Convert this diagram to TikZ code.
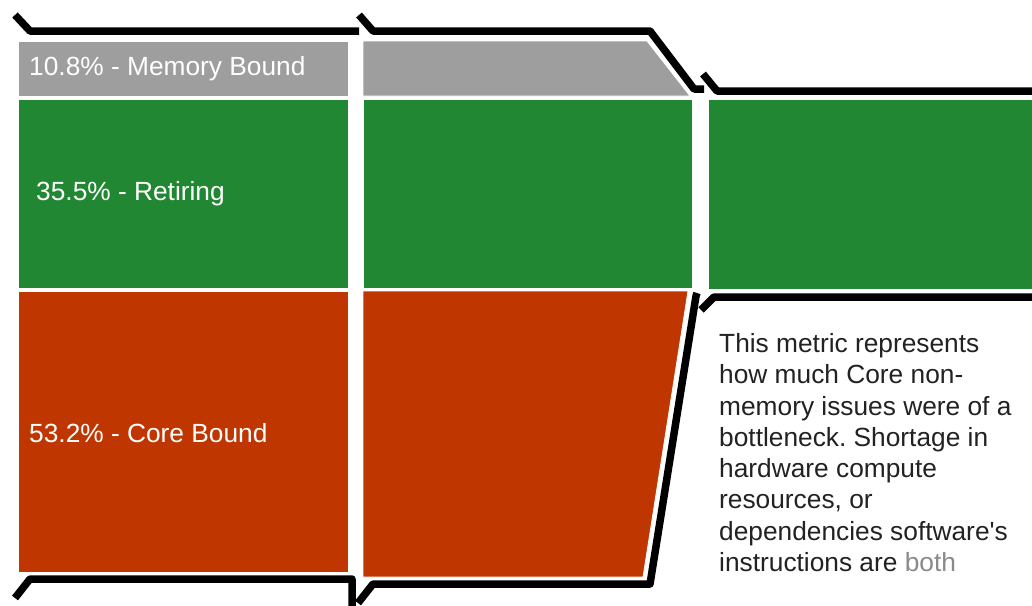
\documentclass[tikz,border=0pt]{standalone}
\usepackage{fontspec}
\setmainfont{Liberation Sans}[Ligatures=TeXOff]
\definecolor{memgray}{HTML}{9E9E9E}
\definecolor{retgreen}{HTML}{228732}
\definecolor{corered}{HTML}{BF3600}
\definecolor{txtdark}{HTML}{222222}
\definecolor{txtfade}{HTML}{8A8A8A}
\tikzset{
  band/.style={draw=white, line width=0.8pt},
  shadowline/.style={draw=black, line width=7.5pt, line join=round},
  lbl/.style={anchor=base west, inner sep=0pt, text=white, font=\fontsize{26.3}{30}\selectfont},
  para/.style={anchor=base west, inner sep=0pt, text=txtdark, font=\fontsize{26.3}{30}\selectfont},
}
\frenchspacing
\begin{document}
\begin{tikzpicture}[x=1pt,y=-1pt]
\useasboundingbox[fill=white] (0,0) rectangle (1032,605);
% column 1
\fill[band, fill=memgray] (18,41) rectangle (348,96);
\fill[band, fill=retgreen] (18,99) rectangle (348,288);
\fill[band, fill=corered] (18,291) rectangle (348,572);
% column 2
\fill[band, fill=memgray] (363,41) -- (647,41) -- (690,96) -- (363,96) -- cycle;
\fill[band, fill=retgreen] (363,99) rectangle (692,288);
\fill[band, fill=corered] (363,291) -- (688,291) -- (643,577) -- (363,577) -- cycle;
% column 3
\fill[band, fill=retgreen] (708,99) rectangle (1040,289);
% black outlines
\draw[shadowline] (15,15) -- (30,31) -- (359,31);
\draw[shadowline] (359,15) -- (373,31) -- (650,31) -- (694,89) -- (704,89);
\draw[shadowline] (703,74) -- (717,91) -- (1040,91);
\draw[shadowline] (15,598) -- (30,579) -- (352,579) -- (352,610);
\draw[shadowline] (358,603) -- (373,584) -- (650,584) -- (696,296) -- (697,293);
\draw[shadowline] (701,310) -- (714,297) -- (1040,297);
% labels
\node[lbl] (mem) at (29,75) {10.8\% - Memory Bound};
\node[lbl] (ret) at (36,200) {35.5\% - Retiring};
\node[lbl] (core) at (29,442) {53.2\% - Core Bound};
% description
\node[para] (p1) at (719,352) {This metric represents};
\node[para] (p2) at (719,383.5) {how much Core non-};
\node[para] (p3) at (719,415) {memory issues were of a};
\node[para] (p4) at (719,446) {bottleneck. Shortage in};
\node[para] (p5) at (719,477) {hardware compute};
\node[para] (p6) at (719,508.5) {resources, or};
\node[para] (p7) at (719,540) {dependencies software's};
\node[para] (p8) at (719,571) {instructions are \textcolor{txtfade}{both}};
\end{tikzpicture}
\end{document}
